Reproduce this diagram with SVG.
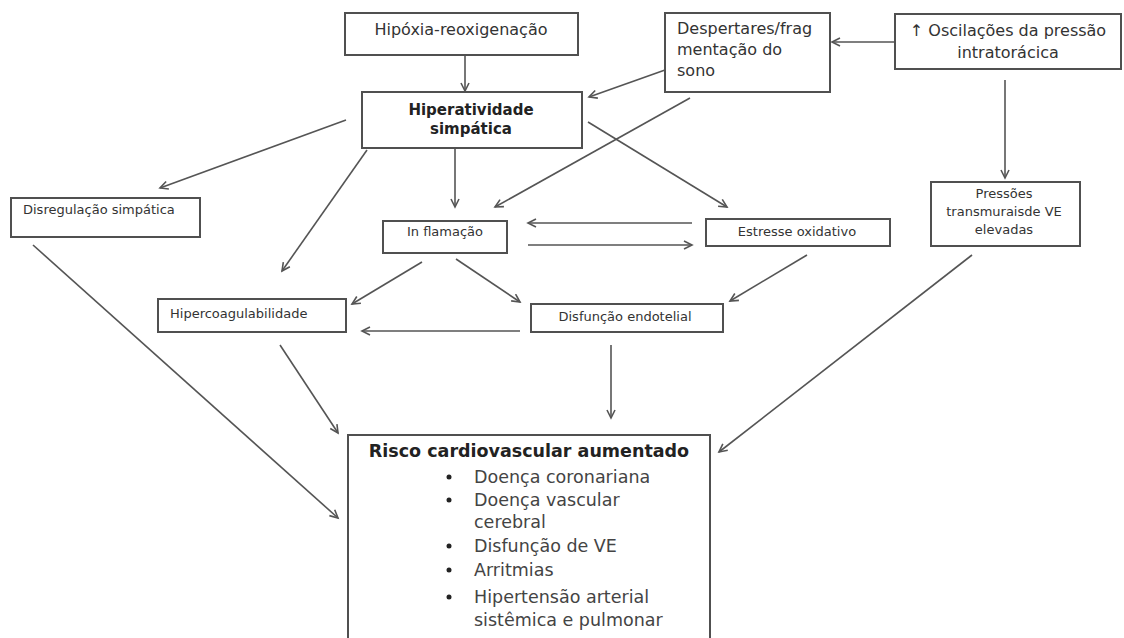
<svg xmlns="http://www.w3.org/2000/svg" width="1124" height="638" viewBox="0 0 1124 638">
<style>
.box{fill:#fff;stroke:#505050;stroke-width:2}
.t{font-family:"DejaVu Sans",sans-serif;fill:#333}
.s{font-size:13px}
.m{font-size:16px}
.b{font-weight:bold;fill:#222}
.big{font-size:17.5px;fill:#444}
.c{text-anchor:middle}
.ln{stroke:#555;stroke-width:1.6;fill:none;marker-end:url(#ah)}
</style>
<defs>
<marker id="ah" markerUnits="userSpaceOnUse" markerWidth="12" markerHeight="12" refX="9" refY="5" orient="auto">
<path d="M1,1 L9,5 L1,9" fill="none" stroke="#555" stroke-width="1.6"/>
</marker>
</defs>
<rect width="1124" height="638" fill="#fff"/>
<g id="connectors">
<line class="ln" x1="465" y1="55" x2="465" y2="91"/>
<line class="ln" x1="894" y1="42" x2="832" y2="42"/>
<line class="ln" x1="665" y1="70" x2="589" y2="97"/>
<line class="ln" x1="690" y1="98" x2="495" y2="207"/>
<line class="ln" x1="1005" y1="80" x2="1005" y2="178"/>
<line class="ln" x1="346" y1="120" x2="160" y2="188"/>
<line class="ln" x1="367" y1="150" x2="282" y2="271"/>
<line class="ln" x1="455" y1="148" x2="455" y2="207"/>
<line class="ln" x1="588" y1="122" x2="727" y2="207"/>
<line class="ln" x1="692" y1="223" x2="528" y2="223"/>
<line class="ln" x1="528" y1="245" x2="692" y2="245"/>
<line class="ln" x1="422" y1="262" x2="352" y2="304"/>
<line class="ln" x1="456" y1="259" x2="520" y2="302"/>
<line class="ln" x1="807" y1="255" x2="730" y2="301"/>
<line class="ln" x1="520" y1="331" x2="362" y2="331"/>
<line class="ln" x1="33" y1="245" x2="338" y2="518"/>
<line class="ln" x1="280" y1="345" x2="338" y2="433"/>
<line class="ln" x1="611" y1="345" x2="611" y2="418"/>
<line class="ln" x1="972" y1="255" x2="719" y2="452"/>
</g>
<g id="hipoxia">
<rect class="box" x="345" y="13" width="233" height="42"/>
<text class="t m" x="461" y="35" text-anchor="middle">Hipóxia-reoxigenação</text>
</g>
<g id="despertares">
<rect class="box" x="665" y="13" width="165" height="79"/>
<text class="t m" x="677" y="34">Despertares/frag</text>
<text class="t m" x="677" y="55">mentação do</text>
<text class="t m" x="677" y="76">sono</text>
</g>
<g id="oscilacoes">
<rect class="box" x="895" y="14" width="226" height="55"/>
<text class="t m c" x="1008" y="36">↑ Oscilações da pressão</text>
<text class="t m c" x="1008" y="58">intratorácica</text>
</g>
<g id="hiperatividade">
<rect class="box" x="362" y="92" width="220" height="56"/>
<text class="t b c" font-size="15" x="471" y="115">Hiperatividade</text>
<text class="t b c" font-size="15" x="471" y="134">simpática</text>
</g>
<g id="disregulacao">
<rect class="box" x="11" y="198" width="189" height="39"/>
<text class="t s" x="23" y="214">Disregulação simpática</text>
</g>
<g id="inflamacao">
<rect class="box" x="383" y="221" width="124" height="32"/>
<text class="t s c" x="445" y="236">In flamação</text>
</g>
<g id="estresse">
<rect class="box" x="706" y="219" width="184" height="27"/>
<text class="t s c" x="797" y="236">Estresse oxidativo</text>
</g>
<g id="pressoes">
<rect class="box" x="931" y="182" width="149" height="64"/>
<text class="t s c" x="1004" y="198">Pressões</text>
<text class="t s c" x="1004" y="216">transmuraisde VE</text>
<text class="t s c" x="1004" y="234">elevadas</text>
</g>
<g id="hipercoagulabilidade">
<rect class="box" x="158" y="299" width="188" height="33"/>
<text class="t s" x="170" y="318">Hipercoagulabilidade</text>
</g>
<g id="disfuncao">
<rect class="box" x="531" y="304" width="192" height="28"/>
<text class="t s c" x="625" y="321">Disfunção endotelial</text>
</g>
<g id="risco">
<rect class="box" x="348" y="435" width="362" height="210"/>
<text class="t b c" font-size="17.5" x="529" y="457">Risco cardiovascular aumentado</text>
<g fill="#222">
<circle cx="449" cy="477" r="2.5"/>
<circle cx="449" cy="500" r="2.5"/>
<circle cx="449" cy="546" r="2.5"/>
<circle cx="449" cy="570" r="2.5"/>
<circle cx="449" cy="597" r="2.5"/>
</g>
<text class="t big" x="474" y="483">Doença coronariana</text>
<text class="t big" x="474" y="506">Doença vascular</text>
<text class="t big" x="474" y="528">cerebral</text>
<text class="t big" x="474" y="552">Disfunção de VE</text>
<text class="t big" x="474" y="576">Arritmias</text>
<text class="t big" x="474" y="603">Hipertensão arterial</text>
<text class="t big" x="474" y="626">sistêmica e pulmonar</text>
</g>
</svg>
